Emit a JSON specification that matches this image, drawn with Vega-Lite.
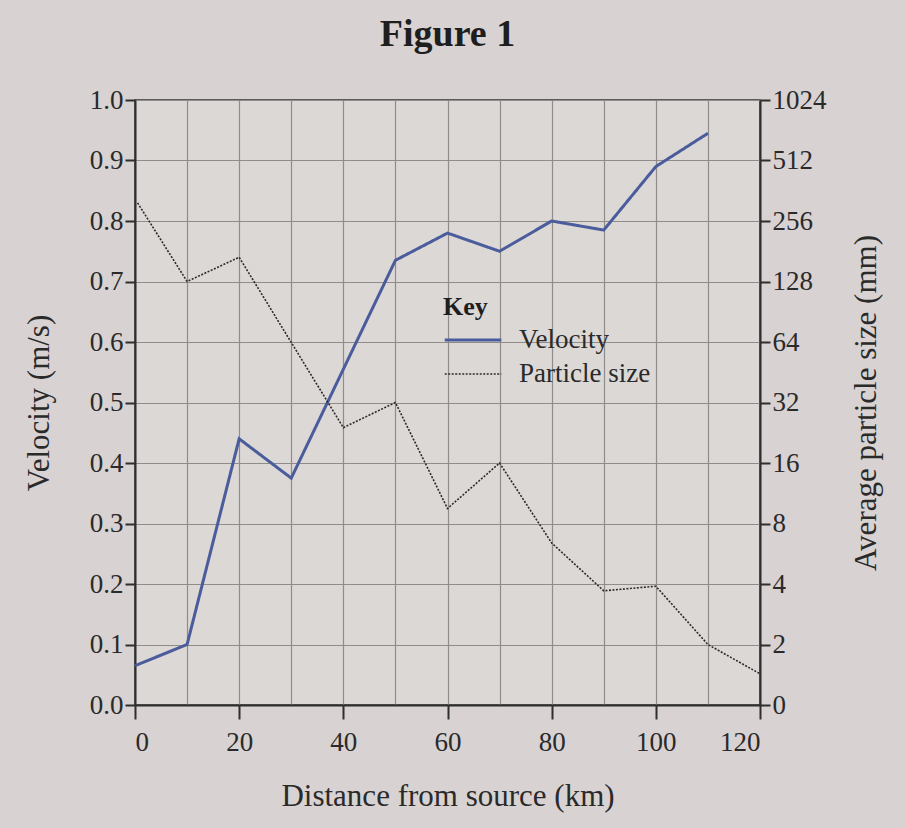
{
  "$schema": "https://vega.github.io/schema/vega-lite/v6.json",
  "autosize": {"type": "none"},
  "width": 625,
  "height": 605,
  "padding": {"left": 135, "top": 100, "right": 145, "bottom": 123},
  "background": "#d8d3d2",
  "title": {
    "text": "Figure 1",
    "font": "Liberation Serif",
    "fontSize": 38,
    "fontWeight": "bold",
    "color": "#1e1e1e",
    "anchor": "middle",
    "offset": 32
  },
  "config": {
    "view": {"fill": "#dcd8d6", "stroke": "#333333", "strokeWidth": 1.5},
    "axis": {
      "labelFont": "Liberation Serif",
      "titleFont": "Liberation Serif",
      "labelFontSize": 27,
      "titleFontSize": 31,
      "titleFontWeight": "normal",
      "labelColor": "#2a2a2a",
      "titleColor": "#2a2a2a",
      "domainColor": "#2e2e2e",
      "domainWidth": 2,
      "tickColor": "#2e2e2e",
      "tickWidth": 2,
      "tickSize": 10,
      "gridColor": "#8f8c8b",
      "gridWidth": 1.2,
      "gridOpacity": 1
    },
    "legend": {
      "labelFont": "Liberation Serif",
      "titleFont": "Liberation Serif",
      "labelFontSize": 27,
      "titleFontSize": 26,
      "titleFontWeight": "bold",
      "labelColor": "#2a2a2a",
      "titleColor": "#1e1e1e",
      "rowPadding": 6,
      "titlePadding": 6,
      "clipHeight": 28,
      "symbolType": "stroke",
      "symbolSize": 3200,
      "labelOffset": 16
    }
  },
  "datasets": {
    "velocity": [
      {"km": 0, "velocity": 0.065, "series": "Velocity"},
      {"km": 10, "velocity": 0.10, "series": "Velocity"},
      {"km": 20, "velocity": 0.44, "series": "Velocity"},
      {"km": 30, "velocity": 0.375, "series": "Velocity"},
      {"km": 50, "velocity": 0.735, "series": "Velocity"},
      {"km": 60, "velocity": 0.78, "series": "Velocity"},
      {"km": 70, "velocity": 0.75, "series": "Velocity"},
      {"km": 80, "velocity": 0.80, "series": "Velocity"},
      {"km": 90, "velocity": 0.785, "series": "Velocity"},
      {"km": 100, "velocity": 0.89, "series": "Velocity"},
      {"km": 110, "velocity": 0.945, "series": "Velocity"}
    ],
    "particle": [
      {"km": 0.5, "size": 315, "series": "Particle size"},
      {"km": 10, "size": 128, "series": "Particle size"},
      {"km": 20, "size": 169, "series": "Particle size"},
      {"km": 40, "size": 24, "series": "Particle size"},
      {"km": 50, "size": 32, "series": "Particle size"},
      {"km": 60, "size": 9.5, "series": "Particle size"},
      {"km": 70, "size": 16, "series": "Particle size"},
      {"km": 80, "size": 6.4, "series": "Particle size"},
      {"km": 90, "size": 3.7, "series": "Particle size"},
      {"km": 100, "size": 3.9, "series": "Particle size"},
      {"km": 110, "size": 2, "series": "Particle size"},
      {"km": 120, "size": 1.43, "series": "Particle size"}
    ]
  },
  "encoding": {
    "x": {
      "field": "km",
      "type": "quantitative",
      "scale": {"domain": [0, 120], "nice": false},
      "axis": {
        "title": "Distance from source (km)",
        "values": [0, 10, 20, 30, 40, 50, 60, 70, 80, 90, 100, 110, 120],
        "labelExpr": "datum.value % 20 == 0 ? datum.label : ''",
        "tickOpacity": {"expr": "datum.value % 20 == 0 ? 1 : 0"},
        "tickSize": 14,
        "labelPadding": 10,
        "titlePadding": 26
      }
    },
    "color": {
      "field": "series",
      "type": "nominal",
      "scale": {"domain": ["Velocity", "Particle size"], "range": ["#4a5c9c", "#2b2b2b"]},
      "legend": {
        "title": "Key",
        "orient": "none",
        "legendX": 308,
        "legendY": 194
      }
    },
    "strokeDash": {
      "field": "series",
      "type": "nominal",
      "scale": {"domain": ["Velocity", "Particle size"], "range": [[1, 0], [2, 1.5]]},
      "legend": {"title": "Key", "orient": "none", "legendX": 308, "legendY": 194}
    },
    "strokeWidth": {
      "field": "series",
      "type": "nominal",
      "scale": {"domain": ["Velocity", "Particle size"], "range": [3, 1.6]},
      "legend": {"title": "Key", "orient": "none", "legendX": 308, "legendY": 194}
    }
  },
  "layer": [
    {
      "data": {"name": "velocity"},
      "mark": {"type": "line"},
      "encoding": {
        "y": {
          "field": "velocity",
          "type": "quantitative",
          "scale": {"domain": [0, 1], "nice": false},
          "axis": {
            "title": "Velocity (m/s)",
            "orient": "left",
            "values": [0, 0.1, 0.2, 0.3, 0.4, 0.5, 0.6, 0.7, 0.8, 0.9, 1.0],
            "format": ".1f",
            "grid": true,
            "labelPadding": 2,
            "titlePadding": 34
          }
        }
      }
    },
    {
      "data": {"name": "particle"},
      "mark": {"type": "line"},
      "encoding": {
        "y": {
          "field": "size",
          "type": "quantitative",
          "scale": {"type": "log", "base": 2, "domain": [1, 1024], "nice": false},
          "axis": {
            "title": "Average particle size (mm)",
            "orient": "right",
            "values": [1, 2, 4, 8, 16, 32, 64, 128, 256, 512, 1024],
            "format": "d",
            "labelExpr": "datum.value == 1 ? '0' : datum.label",
            "grid": false,
            "labelPadding": 2,
            "titleAngle": 270,
            "titlePadding": 56
          }
        }
      }
    }
  ],
  "resolve": {"scale": {"y": "independent"}}
}
